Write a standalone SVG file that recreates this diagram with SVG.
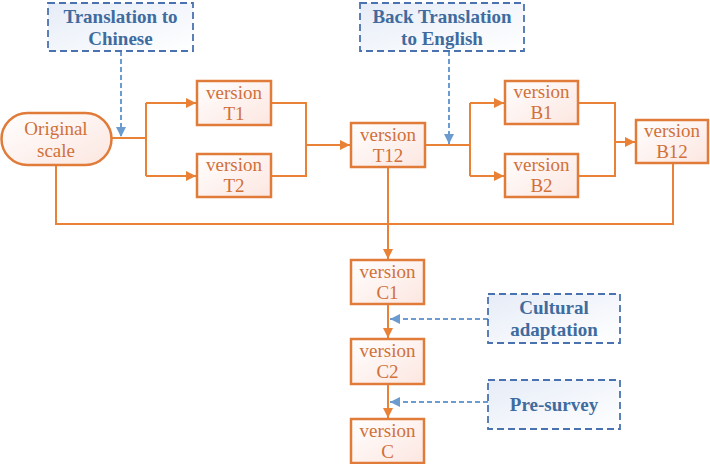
<svg xmlns="http://www.w3.org/2000/svg" width="710" height="464" viewBox="0 0 710 464">
<style>
.box{fill:url(#og);stroke:#E07B39;stroke-width:2.5}
.note{fill:url(#bg);stroke:#4A72B0;stroke-width:1.8;stroke-dasharray:7,4}
.t{font-family:"Liberation Serif","DejaVu Serif",serif;font-size:19px;fill:#D0713A;text-anchor:middle}
.n{font-family:"Liberation Serif","DejaVu Serif",serif;font-size:19px;font-weight:bold;fill:#3F6B9E;text-anchor:middle}
.c{fill:none;stroke:#E98236;stroke-width:2}
.d{fill:none;stroke:#6C9BD0;stroke-width:2;stroke-dasharray:5,3}
</style>
<defs>
<linearGradient id="og" x1="0" y1="0" x2="1" y2="1"><stop offset="0" stop-color="#fff"/><stop offset="1" stop-color="#FCE6E0"/></linearGradient>
<linearGradient id="bg" x1="0" y1="0" x2="1" y2="1"><stop offset="0" stop-color="#E6ECF7"/><stop offset="1" stop-color="#fff"/></linearGradient>
<marker id="ao" viewBox="0 0 10 10" refX="10" refY="5" markerWidth="10" markerHeight="10" markerUnits="userSpaceOnUse" orient="auto"><path d="M0,0L10,5L0,10z" fill="#E98236"/></marker>
<marker id="ab" viewBox="0 0 10 10" refX="10" refY="5" markerWidth="10" markerHeight="10" markerUnits="userSpaceOnUse" orient="auto"><path d="M0,0L10,5L0,10z" fill="#6C9BD0"/></marker>
</defs>
<g id="connectors">
<path class="c" d="M112,138H146"/>
<path class="c" d="M146,103V176"/>
<path class="c" d="M146,103H196" marker-end="url(#ao)"/>
<path class="c" d="M146,176H196" marker-end="url(#ao)"/>
<path class="c" d="M271,103H306V176H271"/>
<path class="c" d="M306,145H350" marker-end="url(#ao)"/>
<path class="c" d="M425,145H470"/>
<path class="c" d="M470,103V176"/>
<path class="c" d="M470,103H504" marker-end="url(#ao)"/>
<path class="c" d="M470,176H504" marker-end="url(#ao)"/>
<path class="c" d="M578,103H615V176H578"/>
<path class="c" d="M615,142H635" marker-end="url(#ao)"/>
<path class="c" d="M673,163V224H56V165"/>
<path class="c" d="M388,167V259" marker-end="url(#ao)"/>
<path class="c" d="M388,304V338" marker-end="url(#ao)"/>
<path class="c" d="M388,384V418" marker-end="url(#ao)"/>
<path class="d" d="M121,51V137" marker-end="url(#ab)"/>
<path class="d" d="M449,51V144" marker-end="url(#ab)"/>
<path class="d" d="M488,319H390" marker-end="url(#ab)"/>
<path class="d" d="M488,402H390" marker-end="url(#ab)"/>
</g>
<g id="n-trans"><rect class="note" x="48" y="3" width="145" height="48"/><text class="n" x="120.5" y="23">Translation to</text><text class="n" x="120.5" y="45">Chinese</text></g>
<g id="n-back"><rect class="note" x="360" y="3" width="164" height="48"/><text class="n" x="442" y="23">Back Translation</text><text class="n" x="442" y="45">to English</text></g>
<g id="n-orig"><rect class="box" x="1.5" y="113" width="110" height="52" rx="26"/><text class="t" x="56" y="135">Original</text><text class="t" x="56" y="157">scale</text></g>
<g id="n-t1"><rect class="box" x="197" y="81" width="74" height="44"/><text class="t" x="234" y="99">version</text><text class="t" x="234" y="120">T1</text></g>
<g id="n-t2"><rect class="box" x="197" y="154" width="74" height="43"/><text class="t" x="234" y="171">version</text><text class="t" x="234" y="192">T2</text></g>
<g id="n-t12"><rect class="box" x="351" y="123" width="74" height="44"/><text class="t" x="388" y="141">version</text><text class="t" x="388" y="162">T12</text></g>
<g id="n-b1"><rect class="box" x="505" y="81" width="73" height="43"/><text class="t" x="541.5" y="98">version</text><text class="t" x="541.5" y="119">B1</text></g>
<g id="n-b2"><rect class="box" x="505" y="154" width="73" height="43"/><text class="t" x="541.5" y="171">version</text><text class="t" x="541.5" y="192">B2</text></g>
<g id="n-b12"><rect class="box" x="636" y="120" width="72" height="43"/><text class="t" x="672" y="137">version</text><text class="t" x="672" y="158">B12</text></g>
<g id="n-c1"><rect class="box" x="351" y="260" width="73" height="44"/><text class="t" x="387.5" y="278">version</text><text class="t" x="387.5" y="299">C1</text></g>
<g id="n-c2"><rect class="box" x="351" y="339" width="73" height="45"/><text class="t" x="387.5" y="357">version</text><text class="t" x="387.5" y="378">C2</text></g>
<g id="n-c"><rect class="box" x="351" y="419" width="73" height="44"/><text class="t" x="387.5" y="437">version</text><text class="t" x="387.5" y="458">C</text></g>
<g id="n-cult"><rect class="note" x="488" y="294" width="132" height="49"/><text class="n" x="554" y="314">Cultural</text><text class="n" x="554" y="336">adaptation</text></g>
<g id="n-pre"><rect class="note" x="488" y="380" width="132" height="49"/><text class="n" x="554" y="411">Pre-survey</text></g>
</svg>
